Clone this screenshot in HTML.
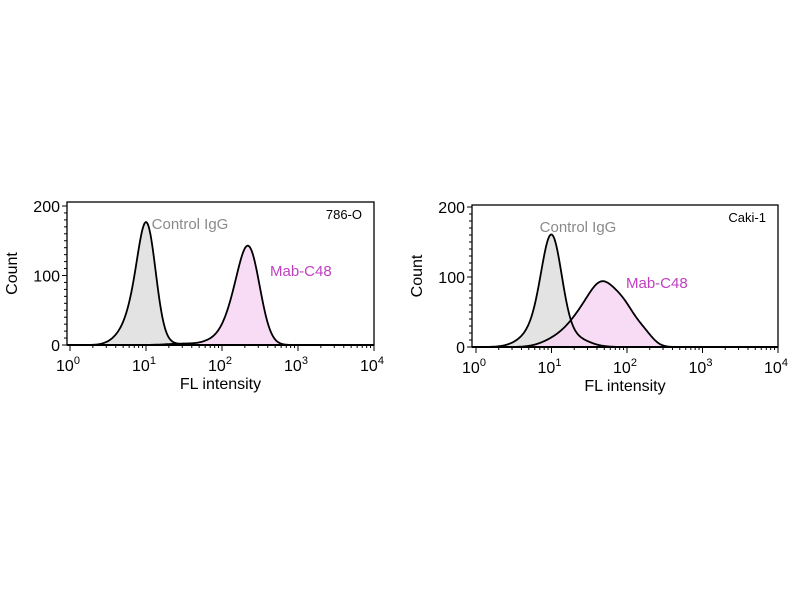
<!DOCTYPE html>
<html><head><meta charset="utf-8"><style>
body{margin:0;background:#fff;}
svg{display:block;font-family:"Liberation Sans",Arial,sans-serif;}
</style></head><body>
<svg id="s" width="800" height="600" viewBox="0 0 800 600" xmlns="http://www.w3.org/2000/svg">
<rect width="800" height="600" fill="#fff"/>
<g id="p1"></g><g id="p2"></g>
</svg>
<script>
const NS="http://www.w3.org/2000/svg";
function el(g,t,a,txt){const e=document.createElementNS(NS,t);for(const k in a)e.setAttribute(k,a[k]);if(txt!==undefined)e.textContent=txt;g.appendChild(e);return e;}
function curve(x0,x1,f,base){let d="M"+x0+","+base;for(let x=x0;x<=x1;x+=0.5){d+=" L"+x.toFixed(1)+","+(base-f(x)).toFixed(1);}d+=" L"+x1+","+base+" Z";return d;}
function line(x0,x1,f,base){let d="";for(let x=x0;x<=x1;x+=0.5){d+=(d?" L":"M")+x.toFixed(1)+","+(base-f(x)).toFixed(1);}return d;}
function g(x,m,s,a){return a*Math.exp(-0.5*((x-m)/s)**2);}
function panel(id,L,R,T,B,y200,dec,x0,label,ctrl,mab,ctrlX,mabX,mabY,ctrlY){
 const G=document.getElementById(id);
 const cf=ctrl,mf=mab;
 el(G,"path",{d:curve(L+5,R-5,cf,B),fill:"#e3e3e3",stroke:"none"});
 el(G,"path",{d:curve(L+5,R-5,mf,B),fill:"#f7d6f5",stroke:"none","fill-opacity":"0.85"});
 el(G,"path",{d:line(L+5,R-5,cf,B),fill:"none",stroke:"#000","stroke-width":"1.8"});
 el(G,"path",{d:line(L+5,R-5,mf,B),fill:"none",stroke:"#000","stroke-width":"1.8"});
 el(G,"rect",{x:L,y:T,width:R-L,height:B-T,fill:"none",stroke:"#000","stroke-width":"1.3"});
 el(G,"line",{x1:L,y1:B,x2:R,y2:B,stroke:"#000","stroke-width":"2"});
 const py=(B-y200)/200;
 for(let v=0;v<=200;v+=10){const y=B-v*py;const big=v%100==0;el(G,"line",{x1:L-(big?5:3),y1:y,x2:L,y2:y,stroke:"#000","stroke-width":"1"});}
 [0,100,200].forEach(v=>el(G,"text",{x:L-7,y:B-v*py+6,"font-size":"16","text-anchor":"end"},v));
 for(let d=0;d<4;d++){for(let k=1;k<=10;k++){const x=x0+dec*(d+Math.log10(k));el(G,"line",{x1:x,y1:B,x2:x,y2:B+(k==1||k==10?6:3),stroke:"#000","stroke-width":"1"});}}
 for(let d=0;d<=4;d++){const x=x0+dec*d;const t=el(G,"text",{x:x-2,y:B+26,"font-size":"16","text-anchor":"middle"});t.appendChild(document.createTextNode("10"));el(t,"tspan",{dy:"-7","font-size":"11"},d);}
 el(G,"text",{x:(L+R)/2,y:B+44,"font-size":"16","text-anchor":"middle"},"FL intensity");
 el(G,"text",{x:0,y:0,"font-size":"16","text-anchor":"middle",transform:"translate("+(L-50)+","+((T+B)/2)+") rotate(-90)"},"Count");
 el(G,"text",{x:ctrlX,y:ctrlY,"font-size":"15",fill:"#8a8a8a","text-anchor":"middle"},"Control IgG");
 el(G,"text",{x:mabX,y:mabY,"font-size":"15",fill:"#c040c0"},"Mab-C48");
 el(G,"text",{x:R-12,y:T+17,"font-size":"13","text-anchor":"end"},label);
}
const s1=0.695;
panel("p1",67,374,202,345,206,76,70,"786-O",
 x=>s1*(g(x,147,9,165)+g(x,133,9,35)+g(x,120,10,10)+g(x,170,10,2)),
 x=>s1*(g(x,249,11,135)+g(x,232,10,30)+g(x,215,11,7)+g(x,183,15,2)),
 190,270,276,229);
const s2=0.70;
panel("p2",472,778,205,347,207,75.5,476,"Caki-1",
 x=>s2*(g(x,552,10,135)+g(x,540,13,30)+g(x,572,15,14)+g(x,520,12,4)),
 x=>s2*(g(x,603,13,70)+g(x,625,12,48)+g(x,582,15,40)+g(x,645,9,14)+g(x,555,14,9)),
 578,626,288,232);
</script>
</body></html>
